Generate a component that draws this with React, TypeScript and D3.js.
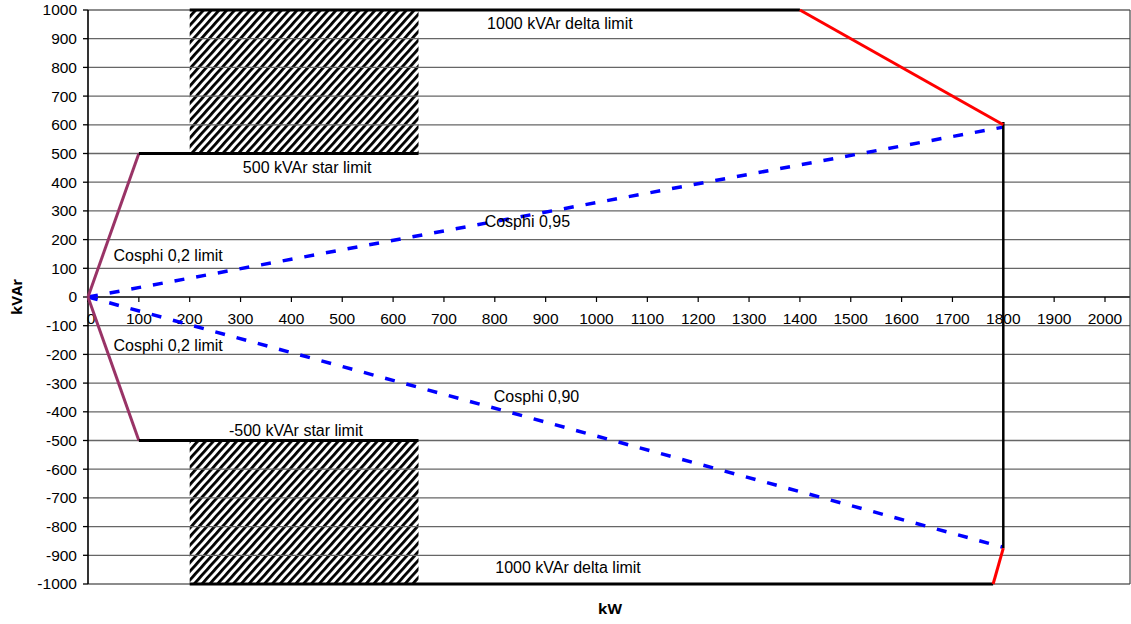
import React from 'react';
import * as d3 from 'd3';

// kW / kVAr points
const yTicks = d3.range(-1000, 1001, 100);
const xTicks = d3.range(0, 2001, 100);

const deltaTop: [number, number][] = [[200, 1000], [1400, 1000]];
const deltaTopRed: [number, number][] = [[1400, 1000], [1800, 600]];
const deltaBottom: [number, number][] = [[200, -1000], [1780, -1000]];
const deltaBottomRed: [number, number][] = [[1780, -1000], [1800, -875]];
const maxKw: [number, number][] = [[1800, 610], [1800, -875]];
const starTop: [number, number][] = [[100, 500], [650, 500]];
const starBottom: [number, number][] = [[100, -500], [650, -500]];
const cosphi02Up: [number, number][] = [[0, 0], [100, 500]];
const cosphi02Down: [number, number][] = [[0, 0], [100, -500]];
const cosphi095: [number, number][] = [[0, 0], [1800, 592]];
const cosphi090: [number, number][] = [[0, 0], [1800, -872]];
const hatchTop = { x0: 200, x1: 650, y0: 500, y1: 1000 };
const hatchBottom = { x0: 200, x1: 650, y0: -1000, y1: -500 };

const labels = [
  { text: '1000 kVAr delta limit', x: 928, y: 955, anchor: 'middle' },
  { text: '500 kVAr star limit', x: 431, y: 450, anchor: 'middle' },
  { text: 'Cosphi 0,95', x: 864, y: 265, anchor: 'middle' },
  { text: 'Cosphi 0,2 limit', x: 50, y: 145, anchor: 'start' },
  { text: 'Cosphi 0,2 limit', x: 50, y: -168, anchor: 'start' },
  { text: 'Cosphi 0,90', x: 882, y: -345, anchor: 'middle' },
  { text: '-500 kVAr star limit', x: 409, y: -465, anchor: 'middle' },
  { text: '1000 kVAr delta limit', x: 944, y: -941, anchor: 'middle' },
];

const W = 1131;
const H = 624;

export default function App() {
  const x = d3.scaleLinear().domain([0, 2000]).range([88, 1105]);
  const y = d3.scaleLinear().domain([-1000, 1000]).range([584, 10]);
  const right = 1130;
  const line = d3.line<[number, number]>().x(d => x(d[0])).y(d => y(d[1]));
  const font = '"Liberation Sans", Arial, sans-serif';

  const rect = (r: typeof hatchTop) => (
    <rect x={x(r.x0)} y={y(r.y1)} width={x(r.x1) - x(r.x0)} height={y(r.y0) - y(r.y1)} fill="url(#hatch)" />
  );

  return (
    <svg width={W} height={H} style={{ position: 'absolute', left: 0, top: 0, background: '#fff' }} fontFamily={font}>
      <defs>
        <pattern id="hatch" width="5.8" height="5.8" patternUnits="userSpaceOnUse" patternTransform="rotate(42)">
          <rect width="5.8" height="5.8" fill="#fff" />
          <rect width="2.8" height="5.8" fill="#000" />
        </pattern>
      </defs>

      {rect(hatchTop)}
      {rect(hatchBottom)}

      {/* grid */}
      {yTicks.map(t => (
        <line key={t} x1={x(0)} x2={right} y1={y(t)} y2={y(t)} stroke={t === 0 ? '#000' : '#666'} strokeWidth={t === 0 ? 1.6 : 1.3} />
      ))}
      <line x1={right} x2={right} y1={y(1000)} y2={y(-1000)} stroke="#444" strokeWidth={1.2} />
      <line x1={x(0)} x2={x(0)} y1={y(1000)} y2={y(-1000)} stroke="#000" strokeWidth={1.6} />

      {/* y ticks */}
      {yTicks.map(t => (
        <g key={t}>
          <line x1={x(0) - 5} x2={x(0)} y1={y(t)} y2={y(t)} stroke="#000" strokeWidth={1.3} />
          <text x={77} y={y(t)} dy="0.35em" textAnchor="end" fontSize={15.5} fill="#000">{t}</text>
        </g>
      ))}
      {/* x ticks */}
      {xTicks.map(t => (
        <g key={t}>
          <line x1={x(t)} x2={x(t)} y1={y(0)} y2={y(0) + 5} stroke="#000" strokeWidth={1.2} />
          <text x={x(t) + (t === 0 ? 3 : 0)} y={y(0) + 27} textAnchor="middle" fontSize={15.5} fill="#000">{t}</text>
        </g>
      ))}

      {/* limits */}
      <path d={line(cosphi095)!} fill="none" stroke="#0000ff" strokeWidth={3.5} strokeDasharray="10 12" />
      <path d={line(cosphi090)!} fill="none" stroke="#0000ff" strokeWidth={3.5} strokeDasharray="10 12" />
      <path d={line(cosphi02Up)!} fill="none" stroke="#993366" strokeWidth={3} />
      <path d={line(cosphi02Down)!} fill="none" stroke="#993366" strokeWidth={3} />
      <path d={line(starTop)!} fill="none" stroke="#000" strokeWidth={3} />
      <path d={line(starBottom)!} fill="none" stroke="#000" strokeWidth={3} />
      <path d={line(deltaTop)!} fill="none" stroke="#000" strokeWidth={3} />
      <path d={line(deltaBottom)!} fill="none" stroke="#000" strokeWidth={3} />
      <path d={line(maxKw)!} fill="none" stroke="#000" strokeWidth={2.5} />
      <path d={line(deltaTopRed)!} fill="none" stroke="#ff0000" strokeWidth={3} />
      <path d={line(deltaBottomRed)!} fill="none" stroke="#ff0000" strokeWidth={3} />

      {labels.map((l, i) => (
        <text key={i} x={x(l.x)} y={y(l.y)} dy="0.35em" textAnchor={l.anchor} fontSize={16} fill="#000">{l.text}</text>
      ))}

      <text transform={`translate(22,${y(0)}) rotate(-90)`} textAnchor="middle" fontSize={15} fontWeight="bold" fontFamily='"Open Sans", sans-serif'>kVAr</text>
      <text x={610} y={614} textAnchor="middle" fontSize={15} fontWeight="bold" fontFamily='"Open Sans", sans-serif'>kW</text>
    </svg>
  );
}
